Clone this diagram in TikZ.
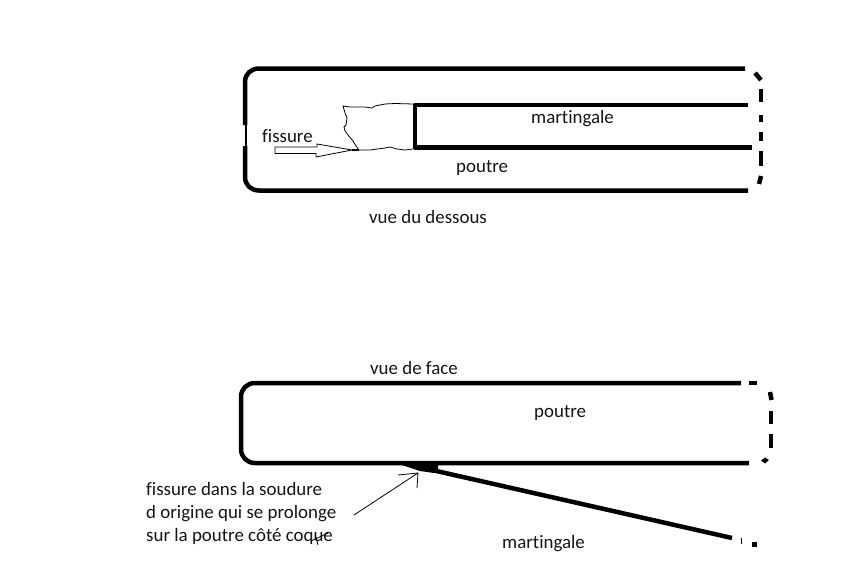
\documentclass[tikz,border=0pt]{standalone}
\usepackage{fontspec}
\setmainfont[Ligatures=NoCommon]{Carlito}
\tikzset{
  heavy/.style={line width=4.5pt,line cap=butt,line join=round,black},
  fine/.style={line width=0.8pt,black,line join=round},
  lbl/.style={font=\fontsize{18.9}{23}\selectfont,inner sep=0pt,text=black!92,anchor=west},
}
\begin{document}
\begin{tikzpicture}[x=1pt,y=-1pt]
\useasboundingbox (0,0) rectangle (861,586);
% top view
\draw[heavy] (745,68.5) -- (259,68.5) .. controls (251,68.5) and (245,74) .. (245,82) -- (245,125);
\draw[heavy] (245,146) -- (245,177) .. controls (245,185) and (251,190.5) .. (259,190.5) -- (748,190.5);
\draw[line width=2pt] (246,125) -- (246,146);
\draw[heavy] (748,105) -- (415,105) -- (415,147.3) -- (752,147.3);
\draw[heavy] (755,73) -- (761,80);
\draw[heavy] (761,89) -- (761,102);
\draw[heavy] (761,115) -- (761,122);
\draw[heavy] (761,132) -- (761,141);
\draw[heavy] (761,151) -- (761,166);
\draw[heavy] (761,176) -- (759,184);
% crack
\draw[fine] (413,104) -- (395,103.5) -- (385,104) -- (375,106) -- (372,108) -- (365,107) -- (350,107) -- (343,106)
  -- (345,113) -- (347,118) -- (346,125) -- (344,127) -- (345,131) -- (348,135) -- (353,141) -- (356,146) -- (359,150)
  -- (370,150) -- (385,148) -- (390,147) -- (397,149) -- (405,150) -- (413,149);
% fissure arrow
\draw[fine] (352,150) -- (317,144) -- (317,147) -- (275,147) -- (275,153.5) -- (316,153.5) -- (316,157) -- (352,150);
\draw[line width=1.6pt] (352,150) -- (359,150);
\node[lbl] (fissure) at (262,136) {fissure};
\node[lbl] (mart1) at (531,119) {martingale};
\node[lbl] (poutre1) at (456,168) {poutre};
\node[lbl] (vue1) at (369,217.5) {vue du dessous};
% front view
\draw[heavy] (741,383) -- (255,383) .. controls (247,383) and (241,389) .. (241,397) -- (241,449) .. controls (241,457) and (247,463) .. (255,463) -- (749,463);
\draw[heavy] (749,383) -- (757,383);
\draw[heavy] (770,392) -- (771.5,400);
\draw[heavy] (771,411) -- (771,424);
\draw[heavy] (771,434) -- (771,448);
\fill (761,460.5) -- (765,457.5) -- (769,460) -- (765,463.5) -- cycle;
% martingale bar
\fill (402,465) -- (438,465) -- (438,469) -- (434,473) -- (420,471) -- cycle;
\draw[heavy] (432,470) -- (732,538);
\draw[line width=1.3pt] (741.5,538) -- (741.5,543.5);
\fill (751.5,541.5) rectangle (756.5,546.5);
\node[lbl] (vue2) at (370,368.5) {vue de face};
\node[lbl] (poutre2) at (534,413) {poutre};
\node[lbl] (mart2) at (502,544) {martingale};
\node[lbl,align=left,anchor=north west] (note) at (146,482.5) {fissure dans la soudure\\d origine qui se prolonge\\sur la poutre côté coque};
% pointer
\coordinate (ptail) at (354,515);
\coordinate (ptip) at (418,473);
\draw[fine] (ptail) -- (ptip);
\draw[fine] (398,475) -- (ptip) -- (417,488);
% scribble on the word coque
\draw[fine] (311,541) -- (328,533);
\draw[fine] (316,537) -- (318,545);
\end{tikzpicture}
\end{document}
